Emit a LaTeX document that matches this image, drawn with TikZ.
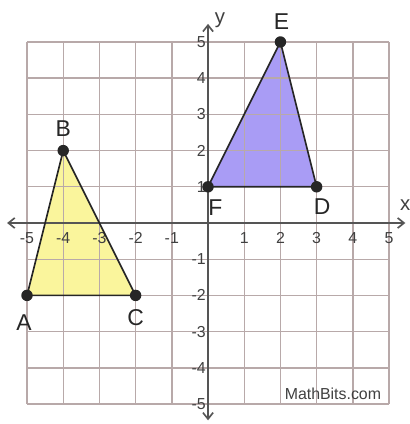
\documentclass[tikz,border=0pt]{standalone}
\usepackage{fontspec}
\setmainfont{Liberation Sans}
\usetikzlibrary{arrows.meta}
\definecolor{gridc}{HTML}{B8A9A9}
\definecolor{axisc}{HTML}{555555}
\definecolor{yel}{HTML}{FAF59C}
\definecolor{pur}{HTML}{A99CF5}
\tikzset{
  gridline/.style={draw=gridc, line width=1.1pt},
  axisline/.style={draw=axisc, line width=1.3pt, -{Straight Barb[length=5pt,width=8pt]}},
  tri/.style={draw=black!85, line width=1.3pt, line join=round},
  dot/.style={circle, fill=black!85, inner sep=0pt, minimum size=9pt},
  ticklab/.style={font=\fontsize{12.5}{14}\selectfont, text=black!75, inner sep=1pt},
  ptlab/.style={font=\fontsize{18}{20}\selectfont, text=black!85, inner sep=0pt},
}
\begin{document}
\begin{tikzpicture}
\useasboundingbox (-5.746,-5.552) rectangle (5.552,6.16);
% fills
\fill[yel] (-5,-2) -- (-4,2) -- (-2,-2) -- cycle;
\fill[pur] (0,1) -- (2,5) -- (3,1) -- cycle;
% grid
\foreach \i in {-5,...,5} {
  \draw[gridline] (\i,-5) -- (\i,5);
  \draw[gridline] (-5,\i) -- (5,\i);
}
% axes
\coordinate (xl) at (-5.55,0);
\coordinate (xr) at (5.45,0);
\coordinate (yb) at (0,-5.45);
\coordinate (yt) at (0,5.5);
\draw[axisline] (0,0) -- (xr);
\draw[axisline] (0,0) -- (xl);
\draw[axisline] (0,0) -- (yt);
\draw[axisline] (0,0) -- (yb);
% tick labels
\foreach \i in {-5,...,-1,1,2,3,4,5} {
  \node[ticklab] (xt\i) at (\i,-0.42) {\i};
  \node[ticklab, anchor=east] (yt\i) at (-0.02,\i) {\i};
}
\node[font=\fontsize{16}{18}\selectfont, text=black!75] (xlab) at (5.45,0.5) {x};
\node[font=\fontsize{16}{18}\selectfont, text=black!75] (ylab) at (0.33,5.6) {y};
% triangles
\node[dot] (A) at (-5,-2) {};
\node[dot] (B) at (-4,2) {};
\node[dot] (C) at (-2,-2) {};
\node[dot] (D) at (3,1) {};
\node[dot] (E) at (2,5) {};
\node[dot] (F) at (0,1) {};
\draw[tri] (A.center) -- (B.center) -- (C.center) -- cycle;
\draw[tri] (F.center) -- (E.center) -- (D.center) -- cycle;
\node[ptlab] (lA) at (-5.08,-2.75) {A};
\node[ptlab] (lB) at (-4,2.6) {B};
\node[ptlab] (lC) at (-2,-2.6) {C};
\node[ptlab] (lD) at (3.15,0.45) {D};
\node[ptlab] (lE) at (2.03,5.55) {E};
\node[ptlab] (lF) at (0.2,0.42) {F};
\node[font=\fontsize{12.5}{14}\selectfont, text=black!75] (mb) at (3.45,-4.73) {MathBits.com};
\end{tikzpicture}
\end{document}
